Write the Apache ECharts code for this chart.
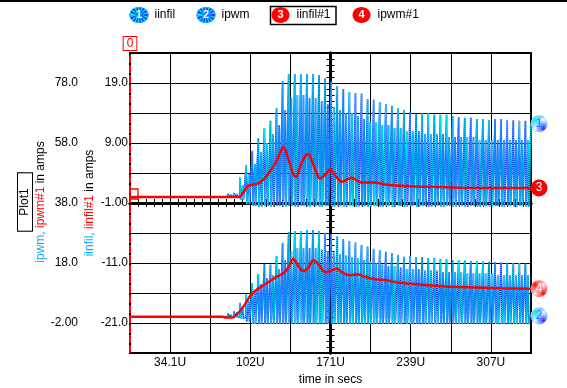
<!DOCTYPE html>
<html><head><meta charset="utf-8">
<script src="https://cdn.jsdelivr.net/npm/echarts@6.0.0/dist/echarts.min.js"></script>
<style>html,body{margin:0;padding:0;background:#fff;}#c{width:567px;height:388px;}</style>
</head><body><div id="c"></div>
<script>
// ---------- data ----------
const seriesNames = ['iinfil', 'ipwm', 'iinfil#1', 'ipwm#1'];
const xMin = 0, xMax = 341.5, xInterval = 34.15;
const xTickLabels = ['', '34.1U', '', '102U', '', '171U', '', '239U', '', '307U', ''];
const iinfilMin = -26, iinfilMax = 24, iinfilInterval = 5;
const iinfilTickVals = [-21, -11, -1, 9, 19];
const iinfilTickText = ['-21.0', '-11.0', '-1.00', '9.00', '19.0'];
const ipwmMin = -12, ipwmMax = 88, ipwmInterval = 10;
const ipwmTickVals = [-2, 18, 38, 58, 78];
const ipwmTickText = ['-2.00', '18.0', '38.0', '58.0', '78.0'];

// switching waveform: one pulse pair per switching period
const firstPulse = 83, period = 5.17;
const iinfilHi = [0.5,0.7,3.3,5.3,7.7,9.8,11.5,12.7,14.8,19.3,20.5,20.5,20.5,20.5,20.5,20.3,19.8,19.2,18.5,18.0,17.5,17.3,17.2,16.3,16.2,15.8,15.5,15.2,14.8,14.5,14.2,13.8,14.0,14.0,13.7,13.7,13.7,13.5,13.3,13.2,13.2,13.0,13.0,12.8,13.0,13.0,12.8,12.8,12.7,12.7];
const iinfilLo = [0.3,0.5,2.0,3.8,5.5,7.5,9.0,10.5,12.0,14.5,16.5,17.0,17.0,16.5,16.5,16.0,15.5,15.0,14.5,14.0,14.0,13.5,13.0,12.5,12.5,12.0,12.0,11.5,11.5,11.0,11.0,11.0,10.5,10.5,10.5,10.5,10.0,10.0,10.0,10.0,10.0,9.5,9.5,9.5,9.5,9.5,9.5,9.5,9.5,9.5];
const iinfilDip = [0,0,-0.5,-1.2,-1.5,-1.6,-1.5,-1.6,-1.5,-1.6,-1.5,-1.6,-1.5,-1.6,-1.5,-1.6,-1.5,-1.6,-1.5,-1.6,-1.5,-1.6,-1.5,-1.6,-1.5,-1.6,-1.5,-1.6,-1.5,-1.6,-1.5,-1.6,-1.5,-1.6,-1.5,-1.6,-1.5,-1.6,-1.5,-1.6,-1.5,-1.6,-1.5,-1.6,-1.5,-1.6,-1.5,-1.6,-1.5,-1.6];
const iinfilEnd = 12.2;
const ipwmHi = [1.3,2.0,4.7,7.7,11.3,14.3,17.7,17.5,20.3,24.7,28.3,28.7,28.7,29.0,29.0,28.7,28.1,27.7,26.8,26.0,25.3,24.8,24.0,23.4,22.7,22.3,21.7,21.3,20.7,20.1,20.3,20.0,20.0,19.7,19.7,19.3,19.2,19.0,19.0,18.8,18.7,18.6,18.5,18.4,18.3,18.2,18.1,18.0,18.0,17.9];
const ipwmLo = [0.8,1.5,3.5,5.5,8.5,11,13,14,16,19,22,23,23,23,23,22.5,22,21.5,21,20.5,20,19.5,19,18.5,18,17.5,17,17,16.5,16,16,16,15.5,15.5,15.5,15,15,15,15,14.5,14.5,14.5,14.5,14.5,14,14,14,14,14,14];
const ipwmDip = [0,0,-0.5,-1.5,-2.3,-2.3,-2.3,-2.3,-2.3,-2.3,-2.3,-2.3,-2.3,-2.3,-2.3,-2.3,-2.3,-2.3,-2.3,-2.3,-2.3,-2.3,-2.3,-2.3,-2.3,-2.3,-2.3,-2.3,-2.3,-2.3,-2.3,-2.3,-2.3,-2.3,-2.3,-2.3,-2.3,-2.3,-2.3,-2.3,-2.3,-2.3,-2.3,-2.3,-2.3,-2.3,-2.3,-2.3,-2.3,-2.3];
const ipwmEnd = 0.3;

// averaged currents (red)
const iinfil1T = [0, 92, 93.7, 100.7, 107.9, 112.2, 116.4, 124.9, 130.6, 135.4, 139.1, 141.4, 146.7, 151.8, 157.0, 161.8, 166.7, 170.3, 175.2, 180.3, 188.8, 197.3, 208.6, 217.2, 238.4, 255.5, 281.0, 341.5];
const iinfil1V = [0, 0, 0.05, 1.83, 2.2, 2.67, 3.5, 6.0, 8.33, 6.0, 3.8, 3.33, 6.0, 7.2, 4.9, 3.1, 3.8, 4.6, 3.5, 2.56, 3.2, 2.4, 2.4, 2.1, 1.8, 1.7, 1.55, 1.5];
const ipwm1T = [0, 79.2, 80.9, 87.7, 89.4, 93.7, 97.9, 102.2, 106.5, 115.0, 123.5, 130.6, 134.8, 139.1, 143.3, 147.6, 151.8, 156.1, 160.4, 166.1, 170.3, 176.0, 181.6, 187.4, 194.4, 200.1, 208.6, 217.2, 229.9, 247.0, 268.3, 289.5, 315.1, 341.5];
const ipwm1V = [0.1, 0.1, -0.2, -0.2, 0.3, 2.0, 4.2, 7.0, 8.7, 10.9, 13.1, 14.6, 16.4, 19.4, 17.0, 15.3, 16.4, 18.9, 17.6, 15.0, 15.3, 16.1, 14.6, 13.9, 14.2, 13.4, 12.6, 12.3, 11.4, 10.8, 10.2, 9.9, 9.6, 9.4];

// ---------- helpers ----------
function pat(c1, c2, c3, c4) {
  const cv = document.createElement('canvas'); cv.width = 2; cv.height = 2;
  const g = cv.getContext('2d');
  g.fillStyle = c1; g.fillRect(0,0,1,1);
  g.fillStyle = c2; g.fillRect(1,0,1,1);
  g.fillStyle = c3; g.fillRect(0,1,1,1);
  g.fillStyle = c4; g.fillRect(1,1,1,1);
  return { image: cv, repeat: 'repeat' };
}
const BLUE = '#1a2cff', CYAN = '#00e4f0';
const lightDither = pat(BLUE, '#ffffff', '#ffffff', CYAN);
const redDither = pat('#ff0000', '#ffffff', '#ffffff', '#ff0000');

function pulses(hi, lo, dip, endV) {
  const pts = [[xMin, 0]];
  for (let k = 0; k < hi.length; k++) {
    const ts = firstPulse + k * period;
    pts.push([ts, 0], [ts + 0.45, hi[k]], [ts + 0.9, dip[k]], [ts + 1.3, 0],
             [ts + 2.2, 0], [ts + 2.7, lo[k]], [ts + 3.2, dip[k]], [ts + 3.6, 0]);
  }
  pts.push([xMax, endV]);
  return pts;
}
const zip = (a, b) => a.map((v, i) => [v, b[i]]);
function fmt(vals, texts) {
  return v => { for (let i = 0; i < vals.length; i++) if (Math.abs(v - vals[i]) < 1e-6) return texts[i]; return ''; };
}
const FONT = '"Liberation Sans", Arial, sans-serif';
const endMark = (value, digit, fill, labelColor) => ({
  coord: [xMax, value], symbol: 'circle', symbolSize: 17, symbolOffset: [8, 0],
  itemStyle: { color: fill },
  label: { show: true, formatter: digit, color: labelColor, fontSize: 12, fontFamily: FONT, position: 'inside' }
});
const iinfilPts = pulses(iinfilHi, iinfilLo, iinfilDip, iinfilEnd);
const ipwmPts = pulses(ipwmHi, ipwmLo, ipwmDip, ipwmEnd);
// spike trace = blue line + cyan dotted overlay (emulates the dithered pen)
function spikeSeries(name, yIdx, pts, marker) {
  return [
    { name: name, type: 'line', xAxisIndex: 0, yAxisIndex: yIdx, data: pts, symbol: 'none', silent: true,
      lineStyle: { width: 1.6, color: BLUE }, itemStyle: { color: BLUE }, z: 3,
      markPoint: { silent: true, data: [marker] } },
    { name: name, type: 'line', xAxisIndex: 0, yAxisIndex: yIdx, data: pts, symbol: 'none', silent: true,
      lineStyle: { width: 1.6, color: CYAN, type: [1, 1] }, itemStyle: { color: CYAN }, z: 3 }
  ];
}
// dithered legend icon: blue ellipse with a dotted cyan overlay
function ditherIcon(cx, cy, digit) {
  return [
    { type: 'ellipse', shape: { cx: cx, cy: cy, rx: 9.5, ry: 8 }, style: { fill: BLUE }, silent: true },
    { type: 'ellipse', shape: { cx: cx, cy: cy, rx: 4.8, ry: 4 }, style: { fill: 'none', stroke: CYAN, lineWidth: 8, lineDash: [1, 1] }, silent: true },
    { type: 'ellipse', shape: { cx: cx, cy: cy, rx: 9, ry: 7.5 }, style: { fill: 'none', stroke: CYAN, lineWidth: 1, lineDash: [1, 1] }, silent: true },
    { type: 'text', x: cx, y: cy, style: { text: digit, fill: '#fff', font: 'bold 11px ' + FONT, align: 'center', verticalAlign: 'middle' }, silent: true }
  ];
}

const chart = echarts.init(document.getElementById('c'), null, { renderer: 'canvas' });
const cross = { show: true, lineStyle: { color: '#000', width: 3 }, onZero: false };
chart.setOption({
  animation: false,
  backgroundColor: '#fff',
  textStyle: { fontFamily: FONT },
  grid: { left: 130, top: 53, width: 401, height: 300, show: true, borderColor: '#000', borderWidth: 2, backgroundColor: 'transparent', containLabel: false, outerBoundsMode: 'none' },
  xAxis: [
    { type: 'value', min: xMin, max: xMax, interval: xInterval, position: 'bottom',
      axisLine: { show: true, onZero: false, lineStyle: { color: '#000', width: 2 } },
      axisTick: { show: false },
      axisLabel: { show: true, color: '#000', fontSize: 12, margin: 4, fontFamily: FONT,
        formatter: v => { const i = Math.round((v - xMin) / xInterval); return Math.abs(v - (xMin + i * xInterval)) < 1e-6 ? xTickLabels[i] : ''; } },
      splitLine: { show: true, lineStyle: { color: '#000', width: 1 } },
      name: 'time in secs', nameLocation: 'middle', nameGap: 15,
      nameTextStyle: { color: '#000', fontSize: 12, fontFamily: FONT } },
    { type: 'value', min: 0, max: 50, interval: 1, position: 'bottom', offset: -150,
      axisLine: cross, axisTick: { show: true, inside: true, length: 4, lineStyle: { color: '#000', width: 1 } },
      axisLabel: { show: false }, splitLine: { show: false } },
    { type: 'value', min: 0, max: 50, interval: 1, position: 'top', offset: -150,
      axisLine: cross, axisTick: { show: true, inside: true, length: 4, lineStyle: { color: '#000', width: 1 } },
      axisLabel: { show: false }, splitLine: { show: false } }
  ],
  yAxis: [
    { type: 'value', min: iinfilMin, max: iinfilMax, interval: iinfilInterval, position: 'left',
      axisLine: { show: true, onZero: false, lineStyle: { color: '#000', width: 2 } },
      axisTick: { show: true, inside: true, length: 8, lineStyle: { color: '#000' } },
      axisLabel: { show: true, color: '#000', fontSize: 12, margin: 2, fontFamily: FONT, formatter: fmt(iinfilTickVals, iinfilTickText) },
      splitLine: { show: true, lineStyle: { color: '#000', width: 1 } } },
    { type: 'value', min: ipwmMin, max: ipwmMax, interval: ipwmInterval, position: 'left', offset: 50,
      axisLine: { show: false, onZero: false }, axisTick: { show: false },
      axisLabel: { show: true, color: '#000', fontSize: 12, margin: 2, fontFamily: FONT, formatter: fmt(ipwmTickVals, ipwmTickText) },
      splitLine: { show: false } },
    { type: 'value', min: 0, max: 50, interval: 1, position: 'left', offset: -200.5,
      axisLine: cross, axisTick: { show: true, inside: true, length: 4, lineStyle: { color: '#000', width: 1 } },
      axisLabel: { show: false }, splitLine: { show: false } },
    { type: 'value', min: 0, max: 50, interval: 1, position: 'right', offset: -200.5,
      axisLine: cross, axisTick: { show: true, inside: true, length: 4, lineStyle: { color: '#000', width: 1 } },
      axisLabel: { show: false }, splitLine: { show: false } }
  ],
  series: [
    ...spikeSeries(seriesNames[0], 0, iinfilPts, endMark(iinfilEnd, '1', lightDither, '#2a7bff')),
    ...spikeSeries(seriesNames[1], 1, ipwmPts, endMark(ipwmEnd, '2', lightDither, '#2a7bff')),
    { name: seriesNames[2], type: 'line', xAxisIndex: 0, yAxisIndex: 0, data: zip(iinfil1T, iinfil1V), smooth: 0.3,
      symbol: 'none', silent: true, lineStyle: { width: 2.5, color: '#ff0000' }, itemStyle: { color: '#ff0000' }, z: 4,
      markLine: { silent: true, symbol: ['none', 'none'], animation: false,
        lineStyle: { color: '#ff0000', width: 2, type: [8, 2] },
        label: { show: true, position: 'end', formatter: '0', color: '#ff0000', fontSize: 12, fontFamily: FONT,
          borderColor: '#ff0000', borderWidth: 1, padding: [1, 3, 0, 3], backgroundColor: '#fff', distance: 3 },
        data: [{ xAxis: 0 }] },
      markPoint: { silent: true, data: [
        endMark(iinfil1V[iinfil1V.length - 1], '3', '#ff0000', '#ffffff'),
        { coord: [0, 0], symbol: 'rect', symbolSize: [8, 10], symbolOffset: [4, -3],
          itemStyle: { color: 'rgba(0,0,0,0)', borderColor: '#ff0000', borderWidth: 1.5 }, label: { show: false } }
      ] } },
    { name: seriesNames[3], type: 'line', xAxisIndex: 0, yAxisIndex: 1, data: zip(ipwm1T, ipwm1V), smooth: 0.3,
      symbol: 'none', silent: true, lineStyle: { width: 2.5, color: '#ff0000' }, itemStyle: { color: '#ff0000' }, z: 4,
      markPoint: { silent: true, data: [endMark(ipwm1V[ipwm1V.length - 1], '4', redDither, '#ffffff')] } }
  ],
  graphic: [
    { type: 'rect', shape: { x: 0, y: 0, width: 567, height: 2 }, style: { fill: '#000' }, silent: true },
    // legend
    ...ditherIcon(139, 15, '1'),
    { type: 'text', x: 154.5, y: 15, style: { text: seriesNames[0], fill: '#000', font: '12px ' + FONT, verticalAlign: 'middle' }, silent: true },
    ...ditherIcon(206, 15, '2'),
    { type: 'text', x: 221.5, y: 15, style: { text: seriesNames[1], fill: '#000', font: '12px ' + FONT, verticalAlign: 'middle' }, silent: true },
    { type: 'rect', shape: { x: 270.5, y: 6.5, width: 65.5, height: 18 }, style: { fill: 'none', stroke: '#000', lineWidth: 1.5 }, silent: true },
    { type: 'ellipse', shape: { cx: 280.5, cy: 15, rx: 9, ry: 8 }, style: { fill: '#ff0000' }, silent: true },
    { type: 'text', x: 280.5, y: 15, style: { text: '3', fill: '#fff', font: 'bold 11px ' + FONT, align: 'center', verticalAlign: 'middle' }, silent: true },
    { type: 'text', x: 296.5, y: 15, style: { text: seriesNames[2], fill: '#000', font: '12px ' + FONT, verticalAlign: 'middle' }, silent: true },
    { type: 'ellipse', shape: { cx: 361.5, cy: 15, rx: 9, ry: 8 }, style: { fill: '#ff0000' }, silent: true },
    { type: 'text', x: 361.5, y: 15, style: { text: '4', fill: '#fff', font: 'bold 11px ' + FONT, align: 'center', verticalAlign: 'middle' }, silent: true },
    { type: 'text', x: 377.5, y: 15, style: { text: seriesNames[3], fill: '#000', font: '12px ' + FONT, verticalAlign: 'middle' }, silent: true },
    // axis titles
    { type: 'text', x: 40.5, y: 202, rotation: Math.PI / 2, silent: true,
      style: { text: '{c|' + seriesNames[1] + ',} {r|' + seriesNames[3] + '} {k|in amps}', align: 'center', verticalAlign: 'middle', font: '12px ' + FONT,
        rich: { c: { fill: '#10a8ff', font: '12px ' + FONT }, r: { fill: '#ff0000', font: '12px ' + FONT }, k: { fill: '#000', font: '12px ' + FONT } } } },
    { type: 'text', x: 90, y: 203, rotation: Math.PI / 2, silent: true,
      style: { text: '{c|' + seriesNames[0] + ',} {r|' + seriesNames[2] + '} {k|in amps}', align: 'center', verticalAlign: 'middle', font: '12px ' + FONT,
        rich: { c: { fill: '#10a8ff', font: '12px ' + FONT }, r: { fill: '#ff0000', font: '12px ' + FONT }, k: { fill: '#000', font: '12px ' + FONT } } } },
    { type: 'text', x: 25, y: 202, rotation: Math.PI / 2, silent: true,
      style: { text: 'Plot1', fill: '#000', font: '12px ' + FONT, align: 'center', verticalAlign: 'middle',
        borderColor: '#000', borderWidth: 1, padding: [1, 15, 1, 15], backgroundColor: '#fff' } }
  ]
});
</script></body></html>
